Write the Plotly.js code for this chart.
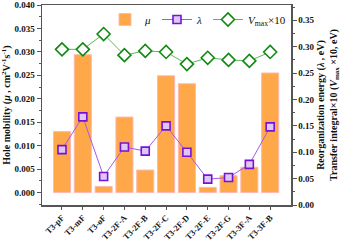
<!DOCTYPE html>
<html><head><meta charset="utf-8">
<script src="https://cdn.plot.ly/plotly-3.0.1.min.js"></script>
<style>html,body{margin:0;padding:0;background:#fff}#chart{width:341px;height:241px}</style>
</head><body><div id="chart"></div>
<script>
var categories = ["T3-pF","T3-mF","T3-oF","T3-2F-A","T3-2F-B","T3-2F-C","T3-2F-D","T3-2F-E","T3-2F-G","T3-3F-A","T3-3F-B"];
var mobility = [0.0130,0.0294,0.0013,0.0161,0.0048,0.0249,0.0232,0.0011,0.0036,0.0054,0.0255];
var lambda = [0.105,0.167,0.054,0.110,0.102,0.150,0.100,0.049,0.052,0.077,0.148];
var vmax10 = [0.295,0.295,0.324,0.284,0.292,0.290,0.267,0.279,0.275,0.273,0.290];

var serif = "Liberation Serif, Times New Roman, serif";
var traces = [
 {type:"bar", x:categories, y:mobility, name:"<i>μ</i>", width:0.82,
  marker:{color:"#FFA849", line:{color:"#FFB8B0", width:1}}},
 {type:"scatter", mode:"lines+markers", x:categories, y:lambda, yaxis:"y2", name:"<i>λ</i>",
  line:{color:"#A45BE8", width:1},
  marker:{symbol:"square", size:8, color:"#DCC8F4", line:{color:"#7A10D8", width:1.6}}},
 {type:"scatter", mode:"lines+markers", x:categories, y:vmax10, yaxis:"y2", name:"<i>V</i><sub>max</sub>×10",
  line:{color:"#5CB85C", width:1},
  marker:{symbol:"diamond", size:10, color:"#ffffff", line:{color:"#118811", width:1.6}}}
];
var layout = {
 width:341, height:241,
 margin:{l:42, r:50, t:5, b:36},
 paper_bgcolor:"#fff", plot_bgcolor:"#fff",
 font:{family:serif, size:10, color:"#111"},
 showlegend:true,
 legend:{orientation:"h", x:1, xanchor:"right", y:1.0, yanchor:"top", bgcolor:"rgba(0,0,0,0)",
   font:{family:serif, size:11, color:"#111"}, itemwidth:30},
 xaxis:{type:"category", range:[-0.96,11.0], automargin:false, showline:true, linecolor:"#555", linewidth:1.5, mirror:true,
   ticks:"outside", ticklen:3, tickcolor:"#555", tickangle:-45,
   tickfont:{family:serif, size:8.5, color:"#111", weight:"bold"}, showgrid:false, zeroline:false},
 yaxis:{range:[-0.00266,0.040], dtick:0.005, tickformat:".3f", automargin:false, showline:true, linecolor:"#555", linewidth:1.5,
   ticks:"outside", ticklen:4, tickcolor:"#555", showgrid:false, zeroline:false,
   minor:{dtick:0.0025, ticks:"outside", ticklen:2, tickcolor:"#555"},
   tickfont:{family:serif, size:9, color:"#111", weight:"bold"},
   title:{text:"Hole mobility (<i>μ</i> , cm<sup>2</sup>V<sup>-1</sup>s<sup>-1</sup>)", standoff:4,
     font:{family:serif, size:10, color:"#111", weight:"bold"}}},
 yaxis2:{overlaying:"y", side:"right", range:[0,0.379], dtick:0.05, tickformat:".2f", automargin:false, showline:true, linecolor:"#555", linewidth:1.5,
   ticks:"outside", ticklen:4, tickcolor:"#555", showgrid:false, zeroline:false,
   minor:{dtick:0.025, ticks:"outside", ticklen:2, tickcolor:"#555"},
   tickfont:{family:serif, size:9, color:"#111", weight:"bold"},
   title:{text:"Reorganization energy (<i>λ</i> , eV)<br>Transfer integral×10 (<i>V</i><sub>max</sub> ×10, eV)", standoff:4,
     font:{family:serif, size:10, color:"#111", weight:"bold"}}}
};
Plotly.newPlot("chart", traces, layout, {displayModeBar:false, staticPlot:true});
</script></body></html>
